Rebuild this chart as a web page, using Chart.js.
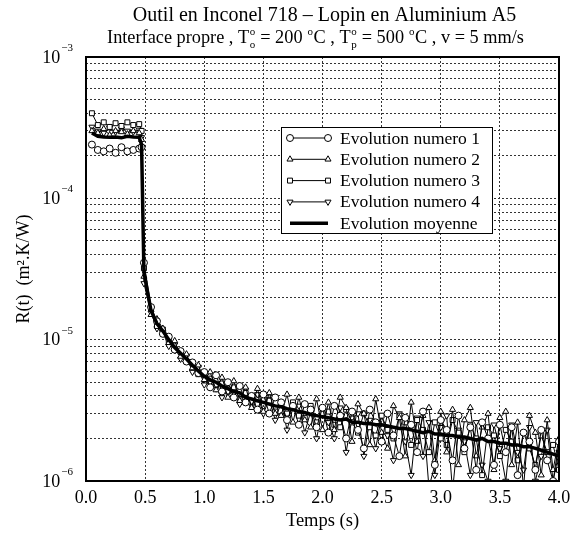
<!DOCTYPE html>
<html>
<head>
<meta charset="utf-8">
<script src="https://cdn.jsdelivr.net/npm/chart.js@4.4.1/dist/chart.umd.min.js"></script>
<style>
  html, body { margin: 0; padding: 0; background: #fff; }
</style>
</head>
<body>
<canvas id="chart" width="579" height="534"></canvas>
<script>
// temps (s)
const temps = [0.05, 0.10, 0.15, 0.20, 0.25, 0.30, 0.35, 0.40, 0.45, 0.47, 0.49,
  0.55, 0.60, 0.65, 0.70, 0.75, 0.80, 0.85, 0.90, 0.95, 1.00,
  1.05, 1.10, 1.15, 1.20, 1.25, 1.30, 1.35, 1.40, 1.45, 1.50,
  1.55, 1.60, 1.65, 1.70, 1.75, 1.80, 1.85, 1.90, 1.95, 2.00,
  2.05, 2.10, 2.15, 2.20, 2.25, 2.30, 2.35, 2.40, 2.45, 2.50,
  2.55, 2.60, 2.65, 2.70, 2.75, 2.80, 2.85, 2.90, 2.95, 3.00,
  3.05, 3.10, 3.15, 3.20, 3.25, 3.30, 3.35, 3.40, 3.45, 3.50,
  3.55, 3.60, 3.65, 3.70, 3.75, 3.80, 3.85, 3.90, 3.95, 4.00];

// R(t) en 1e-6 m2.K/W
const evolution1 = [240, 220, 215, 225, 210, 230, 215, 220, 225, 230, 35,
  17, 13.5, 11, 10.5, 8.5, 8.3, 7.0, 6.9, 5.8, 5.9,
  4.6, 5.6, 4.3, 5.0, 3.9, 4.7, 3.6, 4.0, 3.2, 4.1,
  3.0, 3.9, 3.6, 2.7, 3.4, 2.5, 3.5, 3.2, 2.4, 3.3,
  2.2, 3.4, 2.9, 2.0, 3.1, 2.3, 1.7, 3.2, 2.6, 1.9,
  3.0, 2.1, 1.5, 2.8, 2.5, 1.6, 3.1, 0.9, 1.3, 2.7,
  2.3, 1.4, 2.9, 1.7, 2.4, 1.2, 2.6, 2.0, 1.3, 2.5,
  1.6, 2.4, 1.1, 2.2, 1.9, 1.2, 2.3, 1.4, 1.0, 1.9];
const evolution2 = [300, 290, 310, 280, 300, 295, 285, 300, 290, 260, 28,
  15, 14, 12, 9.5, 9.8, 7.6, 7.9, 6.3, 6.6, 5.2,
  5.9, 4.4, 5.4, 3.9, 5.1, 3.7, 4.6, 3.3, 4.5, 3.1,
  4.2, 3.0, 2.9, 4.1, 2.6, 3.9, 2.7, 2.4, 3.8, 2.3,
  3.6, 2.3, 3.9, 3.3, 1.9, 3.5, 3.0, 1.8, 3.8, 2.2,
  1.7, 3.4, 2.8, 1.5, 3.6, 1.9, 2.9, 3.3, 1.4, 3.1,
  1.6, 3.2, 1.3, 2.7, 3.3, 1.5, 2.4, 3.0, 1.2, 2.8,
  3.1, 1.3, 2.6, 0.9, 2.9, 2.2, 1.1, 2.7, 1.2, 2.0];
const evolution3 = [400, 330, 345, 320, 340, 325, 345, 330, 335, 300, 32,
  16.5, 12.5, 11.8, 9.8, 8.6, 8.2, 7.0, 6.8, 5.7, 5.6,
  5.3, 4.8, 4.9, 4.3, 4.6, 3.8, 4.2, 4.0, 3.5, 3.8,
  3.7, 3.1, 3.5, 3.0, 3.6, 2.9, 2.8, 3.4, 2.6, 3.0,
  3.1, 2.5, 2.4, 3.2, 2.6, 2.2, 3.0, 2.4, 2.1, 2.9,
  2.3, 2.0, 2.9, 2.6, 1.8, 2.7, 2.3, 1.6, 2.6, 2.0,
  1.8, 2.7, 2.2, 1.6, 2.5, 2.0, 1.1, 2.4, 2.1, 1.5,
  2.3, 1.9, 1.4, 2.2, 1.7, 1.3, 2.1, 1.6, 1.8, 1.2];
const evolution4 = [320, 300, 290, 315, 295, 310, 300, 295, 305, 270, 25,
  15.5, 12, 11.2, 9, 9.2, 7.3, 7.7, 5.9, 6.4, 4.8,
  5.0, 4.5, 3.9, 4.9, 4.2, 3.5, 4.4, 3.4, 4.1, 3.0,
  3.8, 2.7, 3.6, 2.3, 3.3, 3.4, 2.2, 3.1, 2.0, 3.2,
  2.6, 2.0, 3.3, 1.6, 2.8, 3.0, 1.5, 2.7, 1.7, 2.9,
  2.1, 1.4, 3.0, 1.9, 1.1, 2.8, 1.5, 2.6, 1.1, 2.4,
  2.9, 0.85, 2.3, 1.9, 1.1, 2.6, 1.3, 1.0, 2.5, 1.7,
  1.0, 2.5, 1.6, 1.2, 2.4, 1.0, 1.5, 2.3, 1.0, 1.6];
const moyenne = [290, 275, 272, 270, 272, 268, 275, 272, 270, 240, 30,
  16, 13, 11.5, 10, 8.8, 8.0, 7.3, 6.6, 6.0, 5.5,
  5.2, 5.0, 4.7, 4.5, 4.3, 4.2, 3.9, 3.8, 3.7, 3.6,
  3.5, 3.4, 3.35, 3.25, 3.2, 3.1, 3.05, 2.95, 2.9, 2.85,
  2.8, 2.75, 2.7, 2.75, 2.6, 2.6, 2.55, 2.55, 2.5, 2.5,
  2.45, 2.4, 2.35, 2.35, 2.3, 2.25, 2.2, 2.25, 2.15, 2.15,
  2.1, 2.1, 2.05, 2.05, 2.0, 1.95, 2.0, 1.9, 1.9, 1.85,
  1.85, 1.8, 1.8, 1.75, 1.75, 1.7, 1.65, 1.6, 1.55, 1.5];

const xTicks = [0, 0.5, 1.0, 1.5, 2.0, 2.5, 3.0, 3.5, 4.0];
const decades = [-6, -5, -4, -3];
const legendLabels = ['Evolution numero 1', 'Evolution numero 2', 'Evolution numero 3', 'Evolution numero 4', 'Evolution moyenne'];

const FONT = "'Liberation Serif', 'Times New Roman', serif";

function toPoints(values) {
  return values.map((v, i) => ({ x: temps[i], y: v * 1e-6 }));
}

function serie(label, values, style, rotation) {
  return {
    label: label,
    data: toPoints(values),
    borderColor: '#000',
    borderWidth: 1,
    pointStyle: style,
    rotation: rotation || 0,
    pointRadius: 3.5,
    pointBackgroundColor: '#fff',
    pointBorderColor: '#000',
    pointBorderWidth: 1,
    fill: false,
    tension: 0,
    order: 1
  };
}

// texte avec exposants / indices
function drawRich(ctx, parts, cx, y, size) {
  const small = Math.round(size * 0.62);
  let total = 0;
  parts.forEach(p => {
    if (p.t !== undefined) {
      ctx.font = size + 'px ' + FONT;
      p.w = ctx.measureText(p.t).width;
    } else {
      ctx.font = small + 'px ' + FONT;
      p.w = Math.max(p.sup ? ctx.measureText(p.sup).width : 0, p.sub ? ctx.measureText(p.sub).width : 0) + 1;
    }
    total += p.w;
  });
  let x = cx - total / 2;
  ctx.textAlign = 'left';
  ctx.textBaseline = 'alphabetic';
  parts.forEach(p => {
    if (p.t !== undefined) {
      ctx.font = size + 'px ' + FONT;
      ctx.fillText(p.t, x, y);
    } else {
      ctx.font = small + 'px ' + FONT;
      if (p.sup) ctx.fillText(p.sup, x + 0.5, y - size * 0.45);
      if (p.sub) ctx.fillText(p.sub, x + 0.5, y + size * 0.3);
    }
    x += p.w;
  });
}

const decor = {
  id: 'decor',
  afterDraw(chart) {
    const ctx = chart.ctx;
    const area = chart.chartArea;
    const yScale = chart.scales.y;
    ctx.save();
    ctx.fillStyle = '#000';

    // titres
    const cx = (area.left + area.right) / 2 + 2;
    ctx.font = '20px ' + FONT;
    ctx.textAlign = 'center';
    ctx.textBaseline = 'alphabetic';
    ctx.fillText('Outil en Inconel 718 \u2013 Lopin en Aluminium A5', cx, 21);
    drawRich(ctx, [
      { t: 'Interface propre , T' }, { sup: 'o', sub: 'o' },
      { t: ' = 200 ' }, { sup: 'o' }, { t: 'C , T' }, { sup: 'o', sub: 'p' },
      { t: ' = 500 ' }, { sup: 'o' }, { t: 'C , v = 5 mm/s' }
    ], cx - 9, 43, 18.3);

    // etiquettes de l'axe y
    decades.forEach(d => {
      const py = yScale.getPixelForValue(Math.pow(10, d));
      const supTxt = '\u2212' + (-d);
      ctx.font = '11px ' + FONT;
      const sw = ctx.measureText(supTxt).width;
      const right = area.left - 13;
      ctx.textBaseline = 'middle';
      ctx.textAlign = 'left';
      ctx.fillText(supTxt, right - sw, py - 9);
      ctx.font = '18px ' + FONT;
      ctx.textAlign = 'right';
      ctx.fillText('10', right - sw - 1, py + 1);
    });

    // cadre
    ctx.strokeStyle = '#000';
    ctx.lineWidth = 2;
    ctx.strokeRect(area.left, area.top, area.right - area.left, area.bottom - area.top);

    // legende
    const bx = area.left + 195, by = area.top + 70, bw = 211, bh = 106;
    ctx.fillStyle = '#fff';
    ctx.fillRect(bx, by, bw, bh);
    ctx.lineWidth = 1;
    ctx.strokeStyle = '#000';
    ctx.strokeRect(bx + 0.5, by + 0.5, bw, bh);
    chart.data.datasets.forEach((ds, i) => {
      const ry = by + 11 + i * 21.3;
      const x0 = bx + 9, x1 = bx + 47;
      ctx.strokeStyle = '#000';
      ctx.lineWidth = ds.borderWidth;
      ctx.beginPath();
      ctx.moveTo(x0, ry);
      ctx.lineTo(x1, ry);
      ctx.stroke();
      if (ds.pointRadius > 0) {
        [x0, x1].forEach(px => {
          ctx.fillStyle = '#fff';
          ctx.strokeStyle = '#000';
          ctx.lineWidth = 1;
          Chart.helpers.drawPoint(ctx, {
            pointStyle: ds.pointStyle, rotation: ds.rotation, radius: 3.5, borderWidth: 1
          }, px, ry);
        });
      }
      ctx.fillStyle = '#000';
      ctx.font = '17.5px ' + FONT;
      ctx.textAlign = 'left';
      ctx.textBaseline = 'middle';
      ctx.fillText(ds.label, bx + 59, ry + 1);
    });
    ctx.restore();
  }
};

const datasets = [
  serie(legendLabels[0], evolution1, 'circle'),
  serie(legendLabels[1], evolution2, 'triangle'),
  serie(legendLabels[2], evolution3, 'rect'),
  serie(legendLabels[3], evolution4, 'triangle', 180),
  {
    label: legendLabels[4],
    data: toPoints(moyenne),
    borderColor: '#000',
    borderWidth: 3.5,
    pointRadius: 0,
    fill: false,
    tension: 0,
    order: 0
  }
];

new Chart(document.getElementById('chart'), {
  type: 'line',
  data: { datasets: datasets },
  plugins: [decor],
  options: {
    responsive: false,
    animation: false,
    layout: { padding: { left: 0, right: 20, top: 57, bottom: 0 } },
    plugins: {
      legend: { display: false },
      tooltip: { enabled: false },
      title: { display: false }
    },
    scales: {
      x: {
        type: 'linear',
        min: 0,
        max: 4,
        afterBuildTicks: s => { s.ticks = xTicks.map(v => ({ value: v })); },
        afterFit: s => { s.height = 53; },
        ticks: {
          color: '#000',
          font: { family: FONT, size: 18 },
          padding: 6,
          maxRotation: 0,
          callback: v => Number(v).toFixed(1)
        },
        grid: { color: '#333', lineWidth: 1, drawTicks: false },
        border: { display: false, dash: [2, 2] },
        title: {
          display: true,
          text: 'Temps (s)',
          color: '#000',
          font: { family: FONT, size: 18.5 },
          padding: { top: 0, bottom: 2 }
        }
      },
      y: {
        type: 'logarithmic',
        min: 1e-6,
        max: 1e-3,
        afterBuildTicks: s => {
          const t = [];
          decades.forEach(d => {
            for (let m = 1; m <= 9; m++) {
              const v = m * Math.pow(10, d);
              if (v <= 1e-3 * 1.0001) t.push({ value: v });
            }
          });
          s.ticks = t;
        },
        afterFit: s => { s.width = 86; },
        ticks: { display: false },
        grid: { color: '#333', lineWidth: 1, drawTicks: false },
        border: { display: false, dash: [2, 2] },
        title: {
          display: true,
          text: 'R(t)  (m\u00B2.K/W)',
          color: '#000',
          font: { family: FONT, size: 18 },
          padding: { top: 13, bottom: 0 }
        }
      }
    }
  }
});
</script>
</body>
</html>
